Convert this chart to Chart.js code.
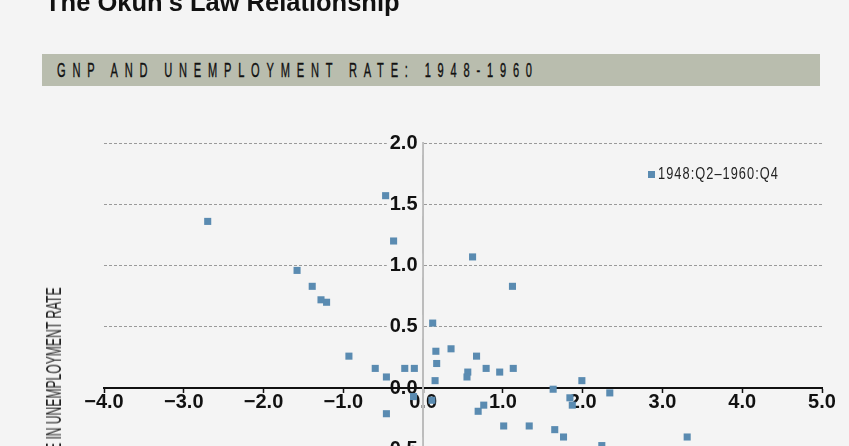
<!DOCTYPE html>
<html>
<head>
<meta charset="utf-8">
<script src="https://cdn.jsdelivr.net/npm/chart.js@4.4.0/dist/chart.umd.min.js"></script>
<style>
  html, body { margin:0; padding:0; width:849px; height:446px; overflow:hidden; background:#f4f4f4; }
  body { position:relative; font-family:"Liberation Sans", Arial, sans-serif; }
  #title { position:absolute; left:45px; top:-10px; font-size:25.5px; line-height:25.5px; font-weight:bold; color:#111; white-space:nowrap; }
  #banner { position:absolute; left:42px; top:54px; width:778px; height:32px; background:#b9bdae; }
  #bannerText { position:absolute; left:57px; top:60.4px; font-size:20.5px; line-height:20px; color:#111; white-space:nowrap; letter-spacing:12.6px; transform:scaleX(0.54); transform-origin:0 0; -webkit-text-stroke:0.4px #111; }
  #ytitle { position:absolute; left:54px; top:391px; font-size:22px; line-height:22px; color:#222; white-space:nowrap; transform:translate(-50%,-50%) rotate(-90deg) scaleX(0.55); transform-origin:50% 50%; }
  #legendBox { position:absolute; left:648px; top:171px; width:7px; height:7px; }
  #legendText { position:absolute; left:658px; top:166px; font-size:16px; line-height:16px; color:#222; white-space:nowrap; letter-spacing:1.3px; transform:scaleX(0.8); transform-origin:0 0; }
  #wrap { position:absolute; left:0; top:0; width:849px; height:700px; }
</style>
</head>
<body>
<div id="wrap"><canvas id="c"></canvas></div>
<div id="title"></div>
<div id="banner"></div>
<div id="bannerText"></div>
<div id="ytitle"></div>
<div id="legendBox"></div>
<div id="legendText"></div>
<script>
// ---- Data ----
const chartTitle = "The Okun's Law Relationship";
const bannerTitle = "GNP AND UNEMPLOYMENT RATE: 1948-1960";
const yAxisTitle = "CHANGE IN UNEMPLOYMENT RATE";
const seriesLabel = "1948:Q2\u20131960:Q4";
const seriesColor = "#5a8bb1";

// percent change in GNP (x)
const gnpChange = [-2.70, -0.47, -0.37, -1.58, -1.39, -1.28, -1.21, 0.62, 1.12, 0.12,
                   -0.93, -0.60, -0.46, -0.23, -0.11, 0.16, 0.17, 0.15, 0.35, 0.67,
                   0.56, 0.55, 0.79, 0.96, 1.13, -0.12, 0.11, -0.46, 0.69, 0.76,
                   1.01, 1.33, 1.63, 1.99, 2.34, 1.84, 1.87, 1.65, 1.76, 2.24,
                   3.31];
// change in unemployment rate (y)
const unemploymentChange = [1.36, 1.57, 1.20, 0.96, 0.83, 0.72, 0.70, 1.07, 0.83, 0.53,
                            0.26, 0.16, 0.09, 0.16, 0.16, 0.30, 0.20, 0.06, 0.32, 0.26,
                            0.13, 0.09, 0.16, 0.13, 0.16, -0.07, -0.10, -0.21, -0.19, -0.14,
                            -0.31, -0.31, -0.01, 0.06, -0.04, -0.08, -0.14, -0.34, -0.40, -0.47,
                            -0.40];
const xTickValues = [-4, -3, -2, -1, 0, 1, 2, 3, 4, 5];
const yTickValues = [-2.0, -1.5, -1.0, -0.5, 0.0, 0.5, 1.0, 1.5, 2.0];

// ---- Text ----
document.getElementById('title').textContent = chartTitle;
document.getElementById('bannerText').textContent = bannerTitle;
document.getElementById('ytitle').textContent = yAxisTitle;
document.getElementById('legendText').textContent = seriesLabel;
document.getElementById('legendBox').style.background = seriesColor;

const fmt = v => (v < 0 ? '\u2212' : '') + Math.abs(v).toFixed(1);
const tickFont = { family: '"Liberation Sans", Arial, sans-serif', size: 20, weight: 'bold' };

new Chart(document.getElementById('c'), {
  type: 'scatter',
  data: {
    datasets: [{
      label: seriesLabel,
      data: gnpChange.map((x, i) => ({ x: x, y: unemploymentChange[i] })),
      backgroundColor: seriesColor,
      borderWidth: 0,
      pointStyle: 'rect',
      pointRadius: 5,
      pointHoverRadius: 5
    }]
  },
  options: {
    responsive: true,
    maintainAspectRatio: false,
    animation: false,
    events: [],
    layout: { padding: { left: 104, right: 27, top: 143, bottom: 67 } },
    plugins: { legend: { display: false }, tooltip: { enabled: false }, title: { display: false } },
    scales: {
      x: {
        type: 'linear',
        min: xTickValues[0],
        max: xTickValues[xTickValues.length - 1],
        position: { y: 0 },
        afterBuildTicks: s => { s.ticks = xTickValues.map(v => ({ value: v })); },
        ticks: { callback: v => fmt(v), font: tickFont, color: '#111', padding: -2, maxRotation: 0, autoSkip: false },
        grid: { drawOnChartArea: false, drawTicks: true, tickLength: 4, tickColor: '#111', tickWidth: 1.5 },
        border: { color: '#111', width: 2 }
      },
      y: {
        type: 'linear',
        min: yTickValues[0],
        max: yTickValues[yTickValues.length - 1],
        position: { x: 0 },
        afterBuildTicks: s => { s.ticks = yTickValues.map(v => ({ value: v })); },
        ticks: {
          callback: v => fmt(v) + ' ',
          font: tickFont, color: '#111', autoSkip: false,
          showLabelBackdrop: true,
          backdropColor: ctx => (ctx.tick && ctx.tick.value === 0) ? 'rgba(0,0,0,0)' : '#f4f4f4',
          backdropPadding: { left: 3, right: -1, top: 0, bottom: 0 }
        },
        grid: { color: '#9a9a9a', lineWidth: 1, drawTicks: false },
        border: { color: '#bcbcbc', width: 2, dash: [3, 2] }
      }
    }
  }
});
</script>
</body>
</html>
